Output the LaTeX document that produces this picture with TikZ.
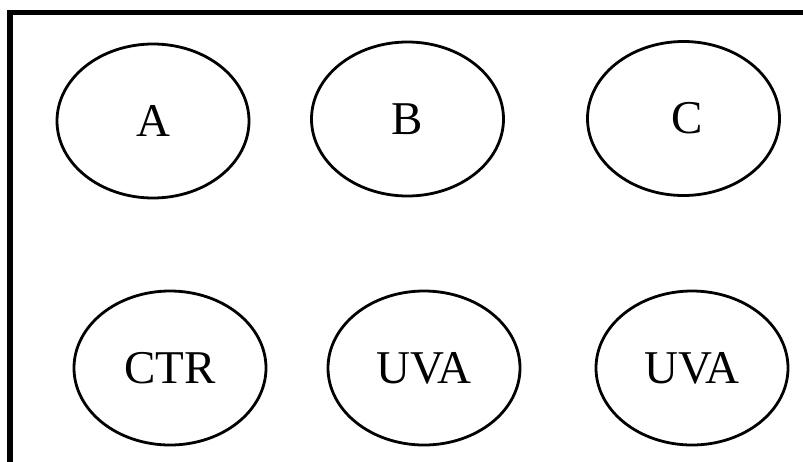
\documentclass[tikz,border=0pt]{standalone}
\usepackage{fontspec}
\setmainfont{Liberation Serif}
\usetikzlibrary{shapes.geometric}
\begin{document}
\begin{tikzpicture}[x=1pt,y=-1pt,
  blob/.style={draw, ellipse, line width=2.8pt, inner sep=0pt,
    minimum width=192pt, minimum height=154pt,
    font=\fontsize{47}{47}\selectfont}]
  \useasboundingbox (0,0) rectangle (803,461);
  % open frame: left side and top edge
  \coordinate (fb) at (10,470);
  \coordinate (fc) at (10,12.5);
  \coordinate (fr) at (812,12.5);
  \draw[line width=5.5pt] (fb) -- (fc) -- (fr);
  % top row
  \node[blob] (a) at (153,121) {A};
  \node[blob] (b) at (407.5,119) {B};
  \node[blob] (c) at (683.5,118.5) {\hspace{8pt}C};
  % bottom row
  \node[blob] (ctr) at (170,368) {CTR};
  \node[blob] (uva1) at (424,368) {UVA};
  \node[blob] (uva2) at (692,368) {UVA};
\end{tikzpicture}
\end{document}
